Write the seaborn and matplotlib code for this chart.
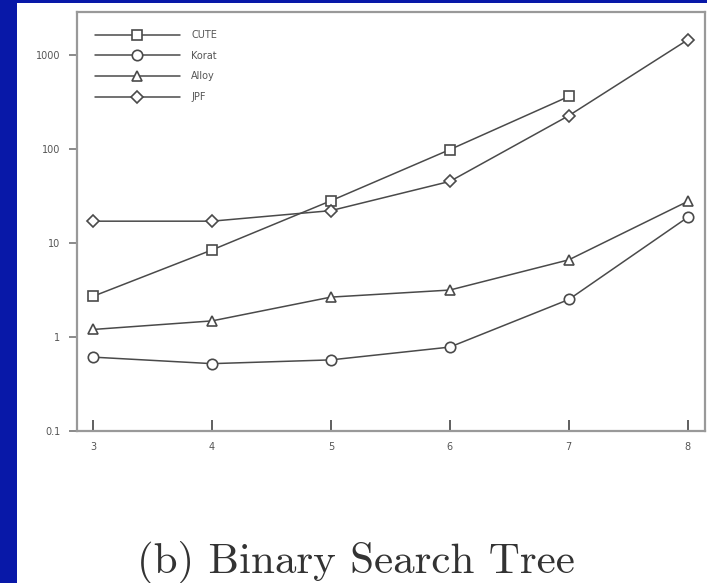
import matplotlib
matplotlib.use("Agg")
import matplotlib.pyplot as plt
import matplotlib.patches as mpatches
import numpy as np
import pandas as pd
import seaborn as sns

sizes = [3, 4, 5, 6, 7, 8]
cute = [2.7, 8.4, 28, 98, 360, np.nan]
korat = [0.61, 0.52, 0.57, 0.78, 2.5, 18.7]
alloy = [1.2, 1.48, 2.65, 3.15, 6.6, 27.6]
jpf = [17, 17, 22, 45, 225, 1440]
series_names = ["CUTE", "Korat", "Alloy", "JPF"]
y_ticks = [0.1, 1, 10, 100, 1000]
y_tick_labels = ["0.1", "1", "10", "100", "1000"]
caption = "(b) Binary Search Tree"

sns.set_style("white")

fig = plt.figure(figsize=(7.07, 5.83), dpi=100)
fig.patch.set_facecolor("#0818a8")
panel = mpatches.Rectangle((17 / 707, 0), 1 - 17 / 707, 1 - 3 / 583,
                           transform=fig.transFigure, facecolor="white",
                           edgecolor="none", zorder=-5)
fig.patches.append(panel)

ax = fig.add_axes([77 / 707, 1 - 431 / 583, (705 - 77) / 707, 419 / 583])
ax.set_facecolor("white")

markers = {"CUTE": "s", "Korat": "o", "Alloy": "^", "JPF": "D"}
msizes = {"CUTE": 7, "Korat": 7.5, "Alloy": 7.5, "JPF": 6}
values = {"CUTE": cute, "Korat": korat, "Alloy": alloy, "JPF": jpf}
line_col = "#4a4a4a"

for name in series_names:
    df = pd.DataFrame({"size": sizes, "time": values[name]}).dropna()
    sns.lineplot(data=df, x="size", y="time", ax=ax, color=line_col,
                 marker=markers[name], markersize=msizes[name],
                 markerfacecolor="white", markeredgecolor=line_col,
                 markeredgewidth=1.2, linewidth=1.1, label=name)

for ln in ax.lines:
    ln.set_markerfacecolor("white")
    ln.set_markeredgecolor(line_col)

ax.set_yscale("log")
ax.set_xlim(2.866, 8.145)
ax.set_ylim(0.1, 2845)
ax.set_yticks(y_ticks)
ax.set_yticklabels(y_tick_labels)
ax.yaxis.set_minor_locator(matplotlib.ticker.NullLocator())
ax.set_xticks(sizes)
ax.set_xticklabels([str(s) for s in sizes])
ax.set_xlabel("")
ax.set_ylabel("")
ax.tick_params(axis="y", direction="out", length=6, width=1.2, color="#777",
               labelsize=7, labelcolor="#555", pad=6, left=True)
ax.tick_params(axis="x", direction="in", length=8, width=1.2, color="#444",
               labelsize=7, labelcolor="#555", pad=8, bottom=True)
for sp in ax.spines.values():
    sp.set_color("#999")
    sp.set_linewidth(1.6)

leg = ax.legend(loc="upper left", bbox_to_anchor=(0.015, 0.978), frameon=False,
                handlelength=8.7, handletextpad=1.2, labelspacing=1.1,
                fontsize=7, numpoints=1, markerscale=1.0)
for t in leg.get_texts():
    t.set_color("#555")

fig.text(356 / 707, 1 - 573 / 583, caption, ha="center", va="baseline",
         fontsize=31, family=["cmr10", "DejaVu Serif"], color="#333")

fig.savefig("out.png", dpi=100, facecolor=fig.get_facecolor())
